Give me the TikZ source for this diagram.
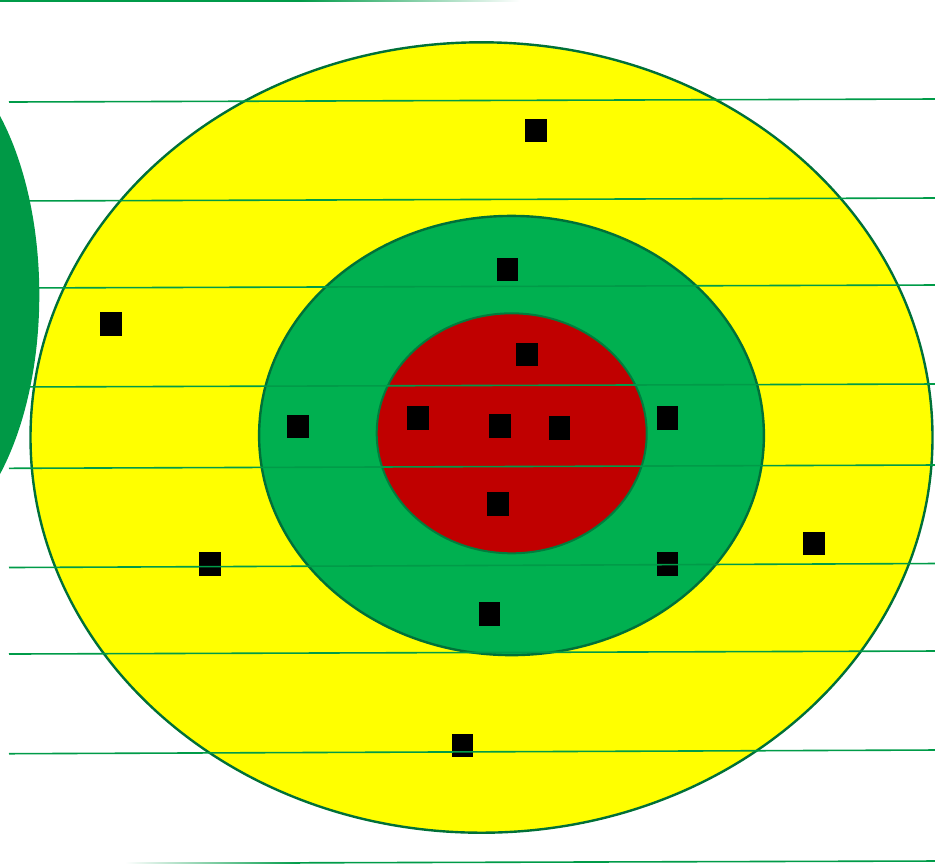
\documentclass[tikz,border=0pt]{standalone}
\usepackage{tikz}

\definecolor{ringyellow}{RGB}{255,255,0}
\definecolor{ringgreen}{RGB}{0,176,80}
\definecolor{ringred}{RGB}{192,0,0}
\definecolor{rimgreen}{RGB}{0,112,56}
\definecolor{bloobgreen}{RGB}{0,153,70}
\definecolor{guidegreen}{RGB}{0,155,72}

\begin{document}
\begin{tikzpicture}[
    x=0.5pt, y=-0.5pt,
    ring/.style={draw=rimgreen, line width=1.2pt},
    hit/.style={
        fill=black,
        draw=black,
        line width=0.2pt,
        inner sep=0pt,
        minimum width=10.2pt,
        minimum height=11.3pt
    },
    guide/.style={draw=guidegreen, line width=0.8pt}
]
\useasboundingbox (0,0) rectangle (935,864);

% Target rings (outer to inner)
\draw[ring, fill=ringyellow] (481.5,437.5) ellipse [x radius=225.5pt, y radius=197.6pt];
\draw[ring, fill=ringgreen]  (511.5,435.5) ellipse [x radius=126.2pt, y radius=109.8pt];
\draw[ring, fill=ringred, draw=rimgreen!80!ringgreen, line width=1pt]
    (511.7,433.3) ellipse [x radius=67.5pt, y radius=60pt];

% Hits in the yellow ring
\node[hit] (y1) at (535.5,130)   {};
\node[hit] (y2) at (110.5,323.5) {};
\node[hit] (y3) at (209.7,563.5) {};
\node[hit] (y4) at (813.5,543.3) {};
\node[hit] (y5) at (462,745.3)   {};

% Hits in the green ring
\node[hit] (g1) at (507,269)     {};
\node[hit] (g2) at (297.5,426)   {};
\node[hit] (g3) at (667,417.5)   {};
\node[hit] (g4) at (667,563.7)   {};
\node[hit] (g5) at (489,613.7)   {};

% Hits in the red centre
\node[hit] (r1) at (526.5,354)   {};
\node[hit] (r2) at (417.5,417.5) {};
\node[hit] (r3) at (499.5,425.7) {};
\node[hit] (r4) at (559.3,427.7) {};
\node[hit] (r5) at (497.5,503.7) {};

% Horizontal guide lines, slightly tilted
\draw[guide] (9,102)   -- (935,99);
\draw[guide] (9,201)   -- (935,198);
\draw[guide] (9,288)   -- (935,285);
\draw[guide] (9,387)   -- (935,384);
\draw[guide] (9,468.3) -- (935,465);
\draw[guide] (9,567.5) -- (935,563.5);
\draw[guide] (9,654)   -- (935,651);
\draw[guide] (9,753.7) -- (935,750);

% Faded top and bottom lines
\draw[guide] (0,1) -- (300,1);
\shade[left color=guidegreen, right color=white] (300,0.2) rectangle (520,1.8);
\shade[left color=white, right color=guidegreen] (125,862) rectangle (300,863.6);
\draw[guide] (300,862.8) -- (935,861);

% Large green shape cut by the left edge
\fill[bloobgreen] (-90.7,295) ellipse [x radius=65pt, y radius=125pt];

\end{tikzpicture}
\end{document}
